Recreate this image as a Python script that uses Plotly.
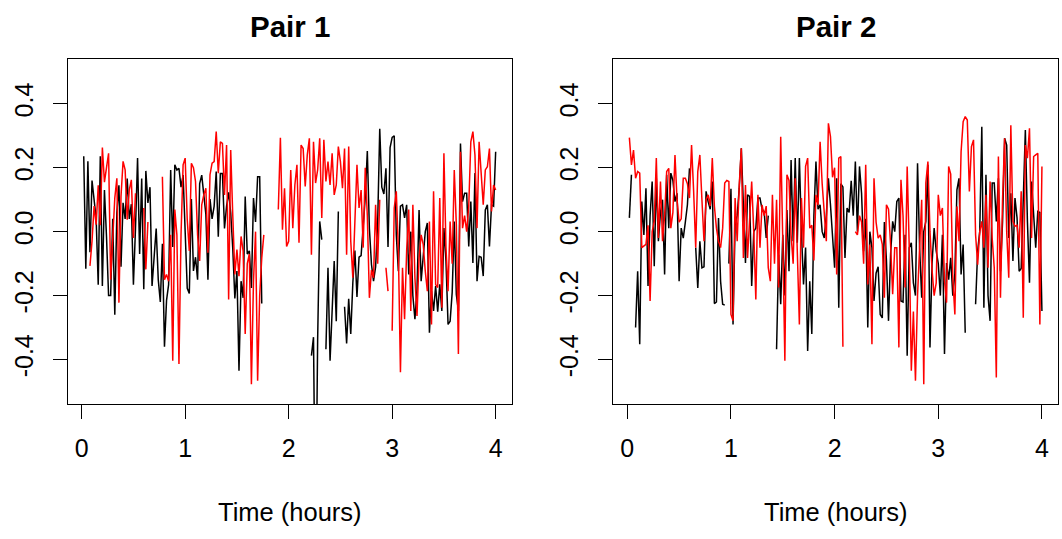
import plotly.graph_objects as go

# time grid (hours), one sample every 0.02 h
time_hours = [round(k * 0.02, 2) for k in range(1, 201)]

N = None
pair1_black = [
    0.236, -0.116, 0.22, -0.064, 0.16, 0.10, 0.04, -0.166, 0.236, -0.17,
    0.13, -0.016, -0.2, -0.2, 0.04, -0.26, 0.06, 0.145, -0.11, 0.09,
    0.04, 0.166, 0.04, 0.086, -0.166, 0.01, 0.23, -0.07, 0.166, -0.18,
    0.19, 0.09, 0.139, -0.17, -0.075, 0.01, -0.15, -0.22, -0.038, -0.36,
    -0.215, -0.166, 0.193, -0.048, 0.209, 0.193, 0.198, 0.139, 0.177, 0.021,
    -0.177, -0.193, 0.102, -0.123, -0.08, -0.15, 0.15, 0.177, 0.113, 0.054,
    -0.15, 0.102, 0.04, 0.08, 0.188, -0.016, 0.182, 0.182, 0.01, 0.08,
    0.123, 0.059, -0.054, -0.209, -0.123, -0.435, -0.155, -0.207, 0.11, -0.07,
    -0.06, -0.176, 0.105, 0.03, 0.172, 0.172, -0.225, N, N, N,
    N, N, N, N, N, N, N, N, N, N,
    N, N, N, N, N, N, N, N, N, N,
    -0.388, -0.33, -1.0, -0.34, 0.032, -0.025, N, -0.368, -0.113, -0.404,
    -0.23, -0.092, -0.28, 0.063, N, N, -0.235, -0.35, -0.21, -0.32,
    -0.16, -0.059, -0.204, -0.08, -0.075, 0.01, 0.107, 0.252, 0.01, -0.102,
    -0.155, -0.11, 0.027, 0.322, 0.139, 0.118, 0.198, -0.048, 0.263, 0.295,
    0.30, -0.01, -0.124, 0.08, 0.084, 0.043, 0.084, -0.134, 0.0, -0.2,
    -0.274, -0.18, 0.068, -0.155, -0.08, 0.0, 0.027, -0.316, -0.186, -0.248,
    -0.17, -0.25, -0.165, -0.248, 0.011, -0.092, -0.29, -0.28, -0.19, 0.032,
    -0.196, -0.248, 0.276, 0.094, 0.12, 0.12, -0.046, 0.094, -0.098, 0.183,
    -0.155, -0.077, -0.08, -0.139, 0.068, 0.084, -0.046, 0.084, 0.08, 0.25,
]

pair1_red = [
    N, N, N, -0.107, -0.03, 0.08, 0.022, 0.145, 0.02, 0.263,
    0.155, 0.2, 0.245, -0.15, -0.03, 0.105, 0.167, -0.222, 0.11, 0.22,
    0.193, 0.037, 0.131, 0.162, -0.02, 0.12, N, N, N, 0.074,
    -0.118, 0.03, N, N, N, N, N, N, 0.172, -0.15,
    -0.134, -0.155, -0.01, -0.404, 0.069, -0.01, -0.414, -0.01, 0.209, 0.23,
    0.037, -0.06, 0.214, 0.2, 0.157, -0.01, -0.092, 0.084, 0.115, 0.136,
    -0.066, 0.178, 0.214, 0.219, 0.313, 0.183, 0.281, 0.276, 0.115, 0.271,
    -0.212, 0.255, 0.05, -0.134, -0.056, -0.139, -0.015, -0.06, -0.32, -0.1,
    -0.07, -0.477, -0.155, 0.0, -0.466, -0.2, -0.082, -0.01, N, N,
    N, N, N, N, 0.069, 0.294, 0.006, 0.136, -0.046, -0.03,
    0.193, 0.011, 0.146, 0.209, -0.035, 0.271, 0.26, 0.141, 0.24, 0.292,
    -0.072, 0.281, 0.152, 0.193, 0.292, 0.043, 0.287, 0.157, 0.219, 0.146,
    0.245, 0.115, 0.146, 0.266, 0.219, 0.136, 0.26, -0.072, 0.266, -0.03,
    -0.144, 0.05, 0.209, 0.074, 0.13, -0.05, 0.2, 0.05, -0.207, -0.12,
    -0.144, 0.084, -0.1, 0.1, N, N, -0.113, -0.186, N, -0.31,
    0.074, 0.126, -0.06, -0.44, -0.113, -0.274, -0.06, 0.069, -0.248, 0.084,
    -0.144, -0.264, -0.082, -0.01, -0.04, -0.124, -0.186, 0.032, -0.29, 0.126,
    -0.165, -0.175, 0.105, -0.238, 0.245, -0.05, -0.186, 0.032, -0.1, 0.193,
    0.022, -0.383, 0.25, 0.011, 0.05, 0.0, 0.08, 0.281, 0.313, 0.24,
    0.011, 0.281, 0.172, 0.084, 0.193, 0.203, 0.26, 0.063, 0.146, 0.13,
]

pair2_black = [
    0.043, 0.178, N, -0.3, -0.124, -0.352, 0.094, -0.01, 0.136, -0.17,
    0.05, 0.157, -0.108, 0.167, -0.03, 0.06, 0.1, -0.134, 0.178, 0.011,
    0.183, 0.16, 0.094, 0.12, -0.155, 0.011, -0.02, 0.03, 0.084, 0.198,
    N, N, -0.05, -0.176, -0.03, -0.113, -0.11, 0.126, 0.094, 0.07,
    0.157, -0.225, -0.22, 0.043, -0.155, -0.227, -0.23, N, -0.1, 0.134,
    -0.29, 0.02, 0.05, 0.136, 0.261, 0.105, -0.098, 0.115, 0.11, -0.17,
    0.0, 0.011, 0.105, 0.105, 0.07, 0.063, -0.02, 0.05, N, N,
    N, -0.368, -0.072, -0.227, -0.01, -0.2, 0.068, -0.124, 0.224, -0.03,
    0.23, -0.035, 0.23, 0.0, -0.165, -0.05, -0.373, -0.155, -0.32, 0.05,
    0.219, 0.07, 0.084, 0.0, -0.02, 0.05, 0.167, 0.084, -0.01, -0.113,
    0.167, -0.238, 0.15, 0.14, -0.082, 0.074, 0.06, 0.159, 0.05, 0.219,
    0.0, 0.204, 0.12, -0.061, 0.04, -0.3, 0.0, -0.05, -0.217, -0.13,
    -0.11, -0.259, -0.27, 0.03, -0.09, -0.279, -0.07, 0.032, 0.0, 0.094,
    0.105, -0.217, -0.22, -0.01, -0.388, -0.05, -0.035, -0.16, -0.2, 0.214,
    -0.05, -0.207, 0.0, 0.032, 0.209, -0.362, -0.1, 0.011, -0.06, -0.1,
    -0.2, -0.01, -0.383, -0.098, -0.15, -0.082, -0.2, -0.13, 0.131, 0.167,
    -0.134, -0.04, -0.316, N, N, N, N, -0.227, -0.06, 0.0,
    0.328, -0.238, 0.178, -0.2, -0.279, 0.152, 0.152, 0.032, 0.167, -0.124,
    0.03, 0.292, 0.271, -0.02, 0.12, -0.092, 0.105, 0.043, -0.124, -0.115,
    0.1, 0.318, 0.032, -0.16, 0.157, 0.043, -0.05, 0.063, 0.06, -0.248,
]

pair2_red = [
    0.294, 0.209, 0.255, 0.167, 0.188, 0.183, -0.05, -0.045, -0.04, 0.02,
    -0.217, 0.0, 0.032, 0.23, -0.02, 0.157, -0.03, 0.05, 0.188, 0.198,
    0.011, 0.06, 0.24, 0.1, 0.03, 0.04, 0.167, 0.167, 0.15, 0.105,
    0.271, 0.126, -0.05, 0.188, 0.24, 0.1, -0.03, 0.1, 0.115, 0.08,
    0.23, 0.08, 0.011, -0.03, -0.05, 0.011, 0.152, 0.16, 0.157, -0.259,
    -0.279, 0.105, -0.03, 0.146, 0.261, -0.082, 0.146, -0.082, 0.05, 0.157,
    0.0, -0.212, 0.115, -0.05, 0.084, 0.05, 0.08, -0.113, -0.155, 0.115,
    -0.1, 0.1, -0.175, 0.297, -0.03, -0.404, 0.178, 0.16, -0.01, -0.1,
    0.167, -0.05, -0.29, 0.105, -0.05, 0.204, 0.23, 0.011, 0.02, -0.09,
    0.115, 0.084, 0.281, 0.15, 0.05, -0.03, 0.339, 0.297, 0.17, 0.2,
    -0.134, 0.23, 0.235, -0.36, N, N, N, N, N, 0.0,
    -0.01, 0.05, 0.03, -0.1, 0.209, -0.165, -0.04, -0.352, 0.167, 0.03,
    -0.02, -0.01, -0.04, -0.207, 0.084, 0.07, -0.04, -0.196, -0.05, -0.05,
    -0.362, 0.162, 0.05, -0.175, 0.204, -0.05, -0.435, -0.25, -0.466, -0.2,
    -0.06, 0.1, -0.477, 0.152, 0.219, 0.0, -0.12, -0.2, -0.16, 0.115,
    0.05, 0.074, -0.155, -0.222, 0.204, 0.18, -0.144, -0.259, 0.079, -0.03,
    0.25, 0.344, 0.36, 0.349, 0.126, 0.266, 0.287, -0.01, -0.103, 0.0,
    0.032, -0.05, 0.115, -0.113, 0.157, -0.02, -0.113, -0.456, 0.235, -0.207,
    0.1, 0.292, 0.0, -0.144, 0.333, 0.032, 0.017, 0.02, -0.05, 0.126,
    -0.269, 0.271, 0.23, 0.323, -0.02, 0.235, 0.24, 0.245, -0.29, 0.204,
]

panel_titles = ["Pair 1", "Pair 2"]
x_label = "Time (hours)"
x_ticks = [0, 1, 2, 3, 4]
y_ticks = [-0.4, -0.2, 0.0, 0.2, 0.4]
y_tick_text = ["-0.4", "-0.2", "0.0", "0.2", "0.4"]

FONT = "Liberation Sans, Arial, Helvetica, sans-serif"
W, H = 1062, 539

fig = go.Figure()
panels = [(pair1_black, pair1_red, "x", "y"), (pair2_black, pair2_red, "x2", "y2")]
for blk, red, xa, ya in panels:
    fig.add_trace(go.Scatter(x=time_hours, y=blk, mode="lines", xaxis=xa, yaxis=ya,
                             line=dict(color="#000000", width=1.5), connectgaps=False,
                             showlegend=False, hoverinfo="skip"))
    fig.add_trace(go.Scatter(x=time_hours, y=red, mode="lines", xaxis=xa, yaxis=ya,
                             line=dict(color="#FF0000", width=1.5), connectgaps=False,
                             showlegend=False, hoverinfo="skip"))

x_domains = [[67.7 / W, 511.7 / W], [613.3 / W, 1058.0 / W]]
y_domain = [1 - 404.3 / H, 1 - 59.0 / H]

axis_common = dict(showgrid=False, zeroline=False, showline=True, mirror=True,
                   linecolor="black", linewidth=1, ticks="outside", ticklen=14,
                   tickwidth=1, tickcolor="black",
                   tickfont=dict(family=FONT, size=25, color="black"))

layout = dict(width=W, height=H, margin=dict(l=0, r=0, t=0, b=0),
              paper_bgcolor="white", plot_bgcolor="white", showlegend=False)

for i, (xn, yn) in enumerate([("xaxis", "yaxis"), ("xaxis2", "yaxis2")]):
    xa = dict(axis_common, domain=x_domains[i], range=[-0.135, 4.155],
              tickvals=x_ticks, ticktext=[str(v) for v in x_ticks],
              ticklabelstandoff=8)
    ya = dict(axis_common, domain=y_domain, range=[-0.54, 0.54],
              tickvals=y_ticks, ticktext=y_tick_text, tickangle=-90,
              ticklabelstandoff=10)
    if i == 1:
        xa["anchor"] = "y2"
        ya["anchor"] = "x2"
    layout[xn] = xa
    layout[yn] = ya

annotations = []
for i in range(2):
    cx = (x_domains[i][0] + x_domains[i][1]) / 2
    annotations.append(dict(text="<b>%s</b>" % panel_titles[i], x=cx, y=1 - 27 / H,
                            xref="paper", yref="paper", xanchor="center", yanchor="middle",
                            showarrow=False, font=dict(family=FONT, size=29.5, color="black")))
    annotations.append(dict(text=x_label, x=cx, y=1 - 512 / H,
                            xref="paper", yref="paper", xanchor="center", yanchor="middle",
                            showarrow=False, font=dict(family=FONT, size=25.5, color="black")))
layout["annotations"] = annotations

fig.update_layout(**layout)
fig.write_html("out.html")
